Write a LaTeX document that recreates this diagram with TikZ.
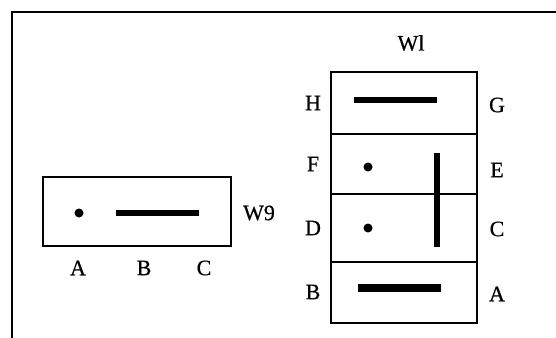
\documentclass[tikz,border=0pt]{standalone}
\usepackage{fontspec}
\setmainfont{Liberation Serif}[FakeBold=0.6]
\begin{document}
\begin{tikzpicture}[x=1pt,y=-1pt,
  frameline/.style={line width=2.6pt},
  boxline/.style={line width=2.2pt},
  bar/.style={line width=6.5pt},
  pin/.style={fill,circle,inner sep=0pt,minimum size=9pt},
  lbl/.style={font=\fontsize{22}{22}\selectfont,inner sep=0pt}]
  \useasboundingbox (0,0) rectangle (556,337);
  % outer frame, open at right and bottom
  \coordinate (fb) at (12,345);
  \coordinate (fc) at (12,12);
  \coordinate (fr) at (565,12);
  \draw[frameline] (fb) -- (fc) -- (fr);

  % W9 connector
  \node[draw,boxline,minimum width=188pt,minimum height=69pt,inner sep=0pt] (w9) at (137,211.5) {};
  \node[pin] (w9a) at (79,213) {};
  \coordinate (w9b1) at (116,213);
  \coordinate (w9b2) at (199,213);
  \draw[bar] (w9b1) -- (w9b2);
  \node[lbl] (w9l) at (259,213) {W9};
  \node[lbl] (la) at (78,268) {A};
  \node[lbl] (lb) at (144,268) {B};
  \node[lbl] (lc) at (204,268) {C};

  % W1 connector
  \node[lbl] (w1l) at (411,43) {Wl};
  \node[draw,boxline,minimum width=146pt,minimum height=62pt,inner sep=0pt] (s1) at (404,103) {};
  \node[draw,boxline,minimum width=146pt,minimum height=60pt,inner sep=0pt] (s2) at (404,164) {};
  \node[draw,boxline,minimum width=146pt,minimum height=68pt,inner sep=0pt] (s3) at (404,228) {};
  \node[draw,boxline,minimum width=146pt,minimum height=61pt,inner sep=0pt] (s4) at (404,292.5) {};

  \coordinate (h1) at (354,100);
  \coordinate (h2) at (437,100);
  \draw[bar,line width=5.5pt] (h1) -- (h2);
  \node[pin] (pf) at (368,167) {};
  \node[pin] (pd) at (368,228) {};
  \coordinate (v1) at (437,153);
  \coordinate (v2) at (437,247);
  \draw[bar,line width=5.5pt] (v1) -- (v2);
  \coordinate (b1) at (358,288);
  \coordinate (b2) at (441,288);
  \draw[bar,line width=7.5pt] (b1) -- (b2);

  \node[lbl] (lh) at (313,103) {H};
  \node[lbl] (lg) at (497,105) {G};
  \node[lbl] (lf) at (313,164) {F};
  \node[lbl] (le) at (497,170) {E};
  \node[lbl] (ld) at (313,228) {D};
  \node[lbl] (lc2) at (497,229) {C};
  \node[lbl] (lb2) at (313,292) {B};
  \node[lbl] (la2) at (497,294) {A};
\end{tikzpicture}
\end{document}
